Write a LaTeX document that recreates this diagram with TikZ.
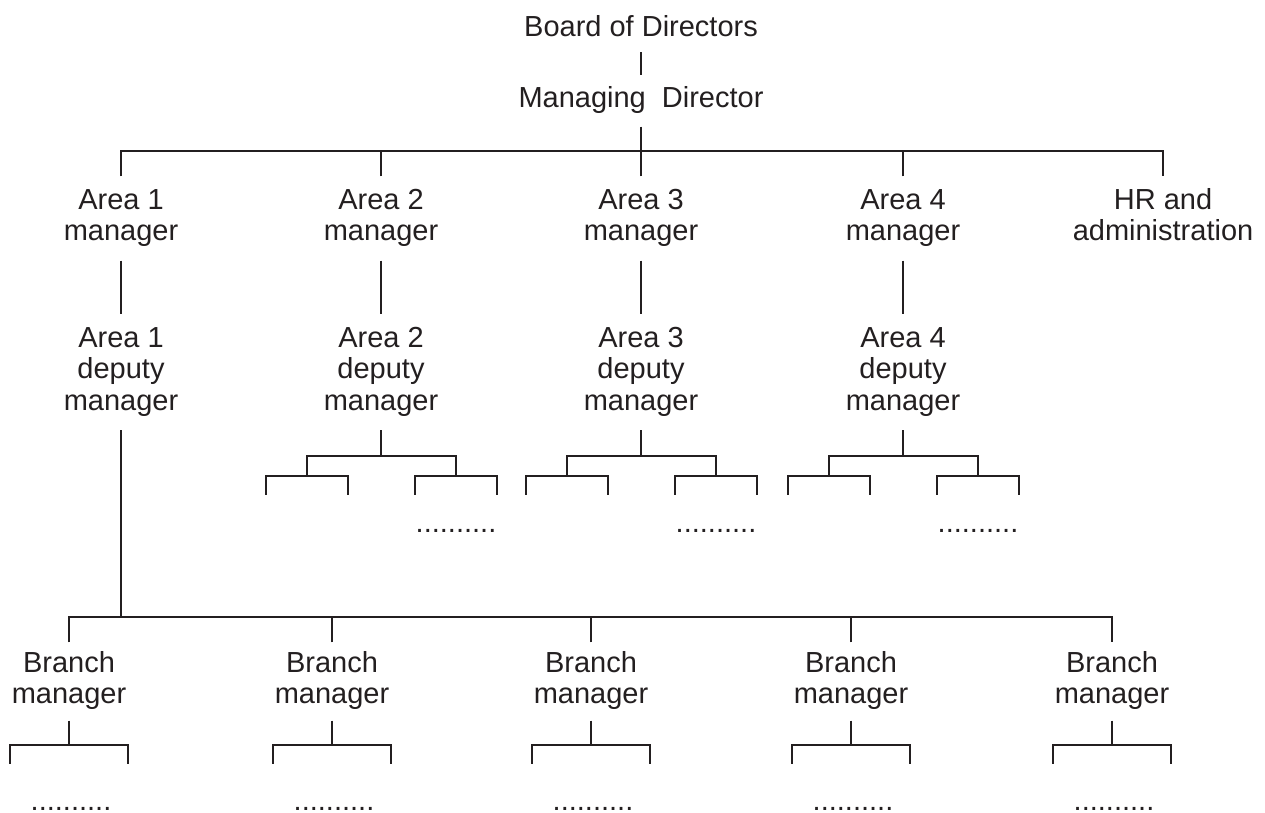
\documentclass[tikz,border=0pt]{standalone}
\usepackage{fontspec}
\setmainfont{Liberation Sans}
\usetikzlibrary{calc}
\definecolor{ink}{RGB}{35,31,32}
\newcommand\labtext[1]{\fontsize{29}{31.5}\selectfont\begin{tabular}[t]{@{}c@{}}#1\end{tabular}}
\begin{document}
\begin{tikzpicture}[x=1pt,y=-1pt,
  lbl/.style={anchor=base, inner xsep=0pt, inner ysep=10.5pt, text=ink},
  brn/.style={lbl, inner ysep=7.5pt},
  dotrow/.style={anchor=base, inner sep=0pt, text=ink, font=\fontsize{29}{31.5}\selectfont},
  link/.style={draw=ink, line width=1.9pt}]
\useasboundingbox (0,0) rectangle (1265,812);

% top
\node[lbl, inner ysep=6.5pt] (bod) at (641,36) {\labtext{Board of Directors}};
\node[lbl, inner ysep=10pt] (md) at (641,107) {\labtext{Managing\ \ Director}};
\draw[link] (bod) -- (md);

% area managers
\node[lbl] (a1) at (121,209) {\labtext{Area 1\\manager}};
\node[lbl] (a2) at (381,209) {\labtext{Area 2\\manager}};
\node[lbl] (a3) at (641,209) {\labtext{Area 3\\manager}};
\node[lbl] (a4) at (903,209) {\labtext{Area 4\\manager}};
\node[lbl] (hr) at (1163,209) {\labtext{HR and\\administration}};
\coordinate (r0) at (641,151);
\draw[link] (md) -- (r0);
\draw[link] (a1.north) -- (a1.north |- r0) -- (hr.north |- r0) -- (hr.north);
\foreach \n in {a2,a3,a4} \draw[link] (\n.north) -- (\n.north |- r0);

% deputies
\node[lbl] (d1) at (121,347) {\labtext{Area 1\\deputy\\manager}};
\node[lbl] (d2) at (381,347) {\labtext{Area 2\\deputy\\manager}};
\node[lbl] (d3) at (641,347) {\labtext{Area 3\\deputy\\manager}};
\node[lbl] (d4) at (903,347) {\labtext{Area 4\\deputy\\manager}};
\foreach \i in {1,...,4} \draw[link] (a\i) -- (d\i);

% deputy sub-trees
\foreach \i in {2,3,4} {
  \draw[link] (d\i.south) -- ++(0,25.5) coordinate (j\i);
  \draw[link] (j\i) ++(-74,20) -- ++(0,-20) -- ++(149,0) -- ++(0,20);
  \draw[link] (j\i) ++(-115,39) -- ++(0,-19) -- ++(82,0) -- ++(0,19);
  \draw[link] (j\i) ++(34,39) -- ++(0,-19) -- ++(82,0) -- ++(0,19);
  \node[dotrow] (dt\i) at ($(j\i)+(75,77)$) {..........};
}

% branch managers
\node[brn] (b1) at (69,672) {\labtext{Branch\\manager}};
\node[brn] (b2) at (332,672) {\labtext{Branch\\manager}};
\node[brn] (b3) at (591,672) {\labtext{Branch\\manager}};
\node[brn] (b4) at (851,672) {\labtext{Branch\\manager}};
\node[brn] (b5) at (1112,672) {\labtext{Branch\\manager}};
\coordinate (r1) at (121,617);
\draw[link] (d1.south) -- (r1);
\draw[link] (b1.north) -- (b1.north |- r1) -- (b5.north |- r1) -- (b5.north);
\foreach \n in {b2,b3,b4} \draw[link] (\n.north) -- (\n.north |- r1);
\foreach \n in {b1,b2,b3,b4,b5} {
  \draw[link] (\n.south) -- ++(0,24) coordinate (\n-j);
  \draw[link] (\n-j) ++(-59,19) -- ++(0,-19) -- ++(118,0) -- ++(0,19);
  \node[dotrow] (\n-dots) at ($(\n-j)+(2,66)$) {..........};
}
\end{tikzpicture}
\end{document}
